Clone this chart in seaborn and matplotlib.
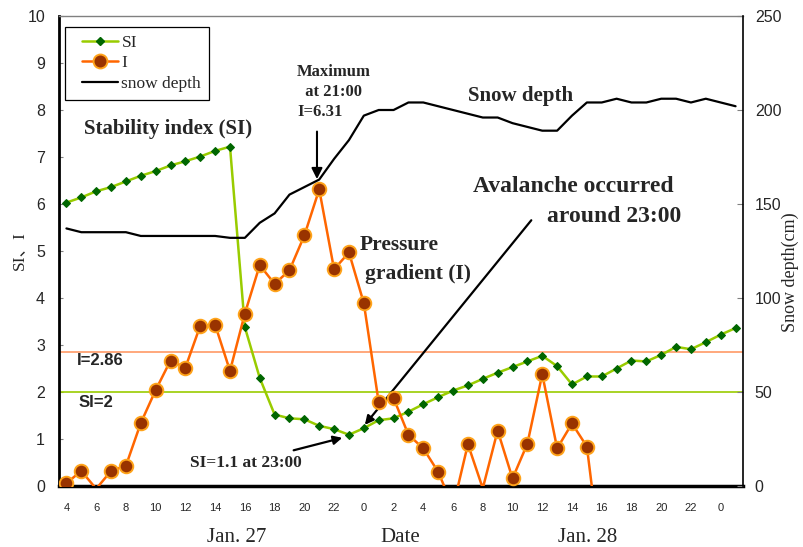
import matplotlib
matplotlib.use("Agg")
import matplotlib.pyplot as plt
import seaborn as sns
import numpy as np
import pandas as pd
from matplotlib.lines import Line2D
from matplotlib.legend_handler import HandlerLine2D

sns.set_style("white")
plt.rcParams["font.family"] = ["Liberation Sans", "Noto Sans CJK JP"]

SERIF = "Liberation Serif"

# hourly values, Jan 27 04:00 .. Jan 29 01:00
hours = [4, 5, 6, 7, 8, 9, 10, 11, 12, 13, 14, 15, 16, 17, 18, 19, 20, 21, 22, 23,
         0, 1, 2, 3, 4, 5, 6, 7, 8, 9, 10, 11, 12, 13, 14, 15, 16, 17, 18, 19, 20, 21, 22, 23,
         0, 1]

si = [6.03, 6.14, 6.27, 6.36, 6.48, 6.60, 6.70, 6.82, 6.91, 7.01, 7.13, 7.22,
      3.38, 2.30, 1.52, 1.44, 1.42, 1.28, 1.21, 1.09,
      1.23, 1.40, 1.44, 1.58, 1.74, 1.89, 2.03, 2.14, 2.28, 2.41, 2.53, 2.65,
      2.77, 2.55, 2.16, 2.33, 2.33, 2.50, 2.67, 2.65, 2.79, 2.96, 2.91, 3.06,
      3.22, 3.36]

pressure = [0.06, 0.32, -0.06, 0.32, 0.43, 1.34, 2.04, 2.67, 2.52, 3.41, 3.43, 2.45,
            3.67, 4.70, 4.30, 4.59, 5.33, 6.31, 4.61, 4.97,
            3.89, 1.78, 1.87, 1.09, 0.80, 0.30, -0.45, 0.89, -0.05, 1.18, 0.16, 0.90,
            2.38, 0.80, 1.33, 0.84, -1.7,
            np.nan, np.nan, np.nan, np.nan, np.nan, np.nan, np.nan, np.nan, np.nan]

snow_depth = [137, 135, 135, 135, 135, 133, 133, 133, 133, 133, 133, 132,
              132, 140, 145, 155, 159, 163, 174, 184,
              197, 200, 200, 204, 204, 202, 200, 198, 196, 196, 193, 191,
              189, 189, 197, 204, 204, 206, 204, 204, 206, 206, 204, 206,
              204, 202]

si_limit = 2.0
i_limit = 2.86

df = pd.DataFrame({"t": np.arange(len(hours)), "hour": hours, "SI": si,
                   "I": pressure, "snow": snow_depth})
df_i = df.dropna(subset=["I"])
df_i_vis = df_i[df_i["I"] >= 0]

SI_LINE = "#99CC00"
SI_MARK = "#006600"
I_LINE = "#FF6600"
I_FACE = "#993300"
I_EDGE = "#FFA31A"

fig = plt.figure(figsize=(8.04, 5.47), dpi=100)
ax = fig.add_axes([59 / 804, 61 / 547, 684 / 804, 470 / 547])
ax2 = ax.twinx()

# threshold lines
ax.axhline(i_limit, color="#FF9966", lw=1.2, zorder=1)
ax.axhline(si_limit, color=SI_LINE, lw=1.2, zorder=1)

sns.lineplot(data=df, x="t", y="SI", ax=ax, color=SI_LINE, lw=1.8,
             marker="D", markersize=4.5, markerfacecolor=SI_MARK,
             markeredgecolor=SI_MARK, zorder=3)
sns.lineplot(data=df_i, x="t", y="I", ax=ax, color=I_LINE, lw=1.8, zorder=3)
sns.scatterplot(data=df_i_vis, x="t", y="I", ax=ax, s=95, color=I_FACE,
                edgecolor=I_EDGE, linewidth=1.4, zorder=4)
sns.lineplot(data=df, x="t", y="snow", ax=ax2, color="black", lw=1.6)

ax.set_xlim(-0.5, len(hours) - 0.5)
ax.set_ylim(0, 10)
ax2.set_ylim(0, 250)
ax.set_xlabel("")
ax.set_ylabel("")
ax2.set_ylabel("")

# x ticks: labels every 2 h, tick marks between hours
lab_pos = df["t"][df["hour"] % 2 == 0]
ax.set_xticks(lab_pos)
ax.set_xticklabels([str(h) for h in df["hour"][df["hour"] % 2 == 0]], fontsize=8)
ax.set_xticks(np.arange(len(hours) - 1) + 0.5, minor=True)
ax.tick_params(axis="x", which="major", length=0, pad=12)
ax.tick_params(axis="x", which="minor", direction="in", length=4, color="#808080", width=1)

ax.set_yticks(range(0, 11))
ax.tick_params(axis="y", direction="in", length=3, color="#808080", labelsize=11.5, pad=10)
ax2.set_yticks(range(0, 251, 50))
ax2.tick_params(axis="y", direction="in", length=4, color="#808080", labelsize=11.5, pad=8.5)

ax.grid(False)
ax2.grid(False)
ax2.patch.set_visible(False)
for s in ["left", "bottom", "top"]:
    ax2.spines[s].set_visible(False)
ax.spines["left"].set_linewidth(2)
ax.spines["left"].set_color("black")
ax.spines["bottom"].set_linewidth(2.5)
ax.spines["bottom"].set_color("black")
ax.spines["top"].set_linewidth(1)
ax.spines["top"].set_color("#808080")
ax.spines["right"].set_visible(False)
ax2.spines["right"].set_linewidth(1.2)
ax2.spines["right"].set_color("black")

# annotations
bold = dict(family=SERIF, fontweight="bold")
ax.text(1.18, 7.6, "Stability index (SI)", fontsize=15, va="center", **bold)
ax.text(15.5, 8.38, "Maximum\n  at 21:00\nI=6.31", fontsize=12, va="center",
        linespacing=1.35, **bold)
ax.annotate("", xy=(16.85, 6.47), xytext=(16.85, 7.6),
            arrowprops=dict(arrowstyle="-|>", color="black", lw=1.5, mutation_scale=16))
ax.text(27.0, 8.29, "Snow depth", fontsize=15, va="center", **bold)
ax.text(27.33, 6.38, "Avalanche occurred", fontsize=17, va="center", **bold)
ax.text(32.3, 5.73, "around 23:00", fontsize=17, va="center", **bold)
ax.annotate("", xy=(19.95, 1.255), xytext=(31.38, 5.70),
            arrowprops=dict(arrowstyle="-|>", color="black", lw=1.6, mutation_scale=13))
ax.text(19.74, 5.13, "Pressure", fontsize=15.5, va="center", **bold)
ax.text(20.07, 4.51, "gradient (I)", fontsize=15.5, va="center", **bold)
ax.text(8.31, 0.49, "SI=1.1 at 23:00", fontsize=12.5, va="center", **bold)
ax.annotate("", xy=(18.73, 1.04), xytext=(15.1, 0.745),
            arrowprops=dict(arrowstyle="-|>", color="black", lw=1.6, mutation_scale=13))
ax.text(0.71, 2.66, "I=2.86", fontsize=12, fontweight="bold", va="center")
ax.text(0.78, 1.77, "SI=2", fontsize=12, fontweight="bold", va="center")

# axis titles
fig.text(19 / 804, 1 - 251 / 547, "SI、I", rotation=90, ha="center", va="center",
         fontsize=12.5, family=[SERIF, "Noto Sans CJK JP"])
fig.text(790 / 804, 1 - 272 / 547, "Snow depth(cm)", rotation=90, ha="center",
         va="center", fontsize=13, family=SERIF)
for xp, txt in [(237, "Jan. 27"), (400, "Date"), (588, "Jan. 28")]:
    fig.text(xp / 804, 1 - 538 / 547, txt, ha="center", va="center", fontsize=15, family=SERIF)

# legend
handles = [
    Line2D([], [], color=SI_LINE, lw=1.8, marker="D", markersize=4.5,
           markerfacecolor=SI_MARK, markeredgecolor=SI_MARK),
    Line2D([], [], color=I_LINE, lw=1.8, marker="o", markersize=10,
           markerfacecolor=I_FACE, markeredgecolor=I_EDGE, markeredgewidth=1.4),
    Line2D([], [], color="black", lw=1.6),
]
leg = ax2.legend(handles, ["SI", "I", "snow depth"], loc="upper left",
                 bbox_to_anchor=((65 - 59) / 684, (486 - 27) / 470), borderaxespad=0,
                 prop={"family": SERIF, "size": 12.5}, frameon=True, fancybox=False,
                 edgecolor="black", framealpha=1, handlelength=2.6, handletextpad=0.2,
                 labelspacing=0.25, borderpad=0.45,
                 handler_map={Line2D: HandlerLine2D(xpad=0.55)})
leg.get_frame().set_linewidth(0.9)

fig.savefig("out.png", dpi=100)
plt.close(fig)
